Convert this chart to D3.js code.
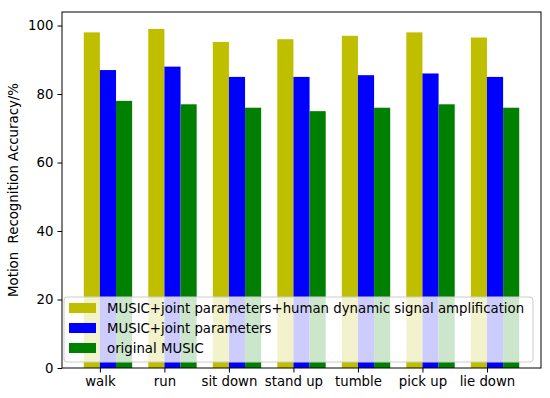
<html>
<head>
	<script src="https://d3js.org/d3.v7.min.js"></script>
</head>
<body>
	<style> *{ margin: 0px; padding: 0px; } body { background: #fff; } </style>
	<svg id="SVGcanvas" width="550" height="398" xmlns="http://www.w3.org/2000/svg"></svg>
	<script>
	var categories = ["walk", "run", "sit down", "stand up", "tumble", "pick up", "lie down"];
	var seriesNames = ["MUSIC+joint parameters+human dynamic signal amplification", "MUSIC+joint parameters", "original MUSIC"];
	var amplified = [98, 99, 95.2, 96, 97, 98, 96.5];
	var jointParams = [87, 88, 85, 85, 85.5, 86, 85];
	var originalMusic = [78, 77, 76, 75, 76, 77, 76];
	var seriesColors = ["#bfbf00", "#0000ff", "#008000"];
	var yTicks = [0, 20, 40, 60, 80, 100];

	var series = [amplified, jointParams, originalMusic];
	var plotLeft = 62, plotRight = 541, plotTop = 12, plotBottom = 368;
	var fontSize = 13.3;
	var svg = d3.select( "#SVGcanvas" );
	var barW = 0.25;

	// matplotlib style x limits: data from -0.25 to 6.5 plus 5% margins
	var xMin = -barW, xMax = categories.length - 1 + 2 * barW;
	var pad = ( xMax - xMin ) * 0.05;
	var x = d3.scaleLinear().domain( [xMin - pad, xMax + pad] ).range( [plotLeft, plotRight] );
	var y = d3.scaleLinear().domain( [0, 99 * 1.05] ).range( [plotBottom, plotTop] );

	// bars
	series.forEach( function ( vals, s ) {
		svg.append( "g" ).selectAll( "rect" )
			.data( vals )
			.enter().append( "rect" )
			.attr( "x", function ( d, i ) { return x( i - barW + s * barW ); } )
			.attr( "width", function ( d, i ) { return x( i + barW ) - x( i ); } )
			.attr( "y", function ( d ) { return y( d ); } )
			.attr( "height", function ( d ) { return y( 0 ) - y( d ); } )
			.attr( "fill", seriesColors[s] );
	});

	// axes
	var xAxis = d3.axisBottom( x )
		.tickValues( d3.range( categories.length ) )
		.tickFormat( function ( d ) { return categories[d]; } )
		.tickSize( 4.5 ).tickPadding( 4 );
	var yAxis = d3.axisLeft( y ).tickValues( yTicks ).tickSize( 4.5 ).tickPadding( 4 );

	var gx = svg.append( "g" ).attr( "transform", "translate(0," + plotBottom + ")" ).call( xAxis );
	var gy = svg.append( "g" ).attr( "transform", "translate(" + plotLeft + ",0)" ).call( yAxis );
	[gx, gy].forEach( function ( g ) {
		g.select( ".domain" ).remove();
		g.selectAll( "text" ).attr( "font-family", "DejaVu Sans" ).attr( "font-size", fontSize ).attr( "fill", "#000" );
		g.selectAll( "line" ).attr( "stroke", "#000" ).attr( "stroke-width", 1 );
	});
	gx.selectAll( "text" ).attr( "dy", "0.75em" );

	// frame
	svg.append( "rect" )
		.attr( "x", plotLeft ).attr( "y", plotTop )
		.attr( "width", plotRight - plotLeft ).attr( "height", plotBottom - plotTop )
		.attr( "fill", "none" ).attr( "stroke", "#000" ).attr( "stroke-width", 1 );

	// y label
	svg.append( "text" )
		.attr( "transform", "translate(18," + ( ( plotTop + plotBottom ) / 2 ) + ") rotate(-90)" )
		.attr( "text-anchor", "middle" )
		.attr( "font-family", "DejaVu Sans" ).attr( "font-size", fontSize )
		.style( "white-space", "pre" )
		.text( "Motion  Recognition Accuracy/%" );

	// legend
	var lg = svg.append( "g" );
	lg.append( "rect" )
		.attr( "x", 64 ).attr( "y", 297 ).attr( "width", 469 ).attr( "height", 65 )
		.attr( "rx", 3 ).attr( "fill", "#fff" ).attr( "fill-opacity", 0.8 )
		.attr( "stroke", "#ccc" ).attr( "stroke-width", 1 );
	seriesNames.forEach( function ( name, s ) {
		var ry = 308 + s * 20;
		lg.append( "rect" )
			.attr( "x", 69 ).attr( "y", ry - 5 ).attr( "width", 27 ).attr( "height", 10 )
			.attr( "fill", seriesColors[s] );
		lg.append( "text" )
			.attr( "x", 107 ).attr( "y", ry ).attr( "dy", "0.35em" )
			.attr( "font-family", "DejaVu Sans" ).attr( "font-size", fontSize )
			.text( name );
	});
	</script>
</body>
</html>
